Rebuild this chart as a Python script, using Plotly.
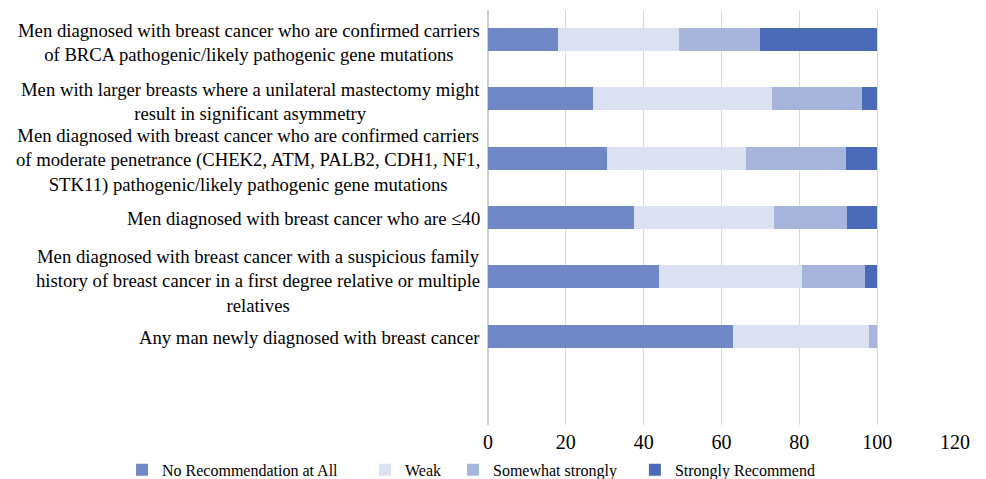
import plotly.graph_objects as go

categories = [
    "Men diagnosed with breast cancer who are confirmed carriers<br>of BRCA pathogenic/likely pathogenic gene mutations",
    "Men with larger breasts where a unilateral mastectomy might<br>result in significant asymmetry",
    "Men diagnosed with breast cancer who are confirmed carriers<br>of moderate penetrance (CHEK2, ATM, PALB2, CDH1, NF1,<br>STK11) pathogenic/likely pathogenic gene mutations",
    "Men diagnosed with breast cancer who are ≤40",
    "Men diagnosed with breast cancer with a suspicious family<br>history of breast cancer in a first degree relative or multiple<br>relatives",
    "Any man newly diagnosed with breast cancer",
]
series_names = ["No Recommendation at All", "Weak", "Somewhat strongly", "Strongly Recommend"]
no_rec = [18, 27, 30.5, 37.5, 44, 63]
weak = [31, 46, 35.7, 36, 36.7, 35]
somewhat = [21, 23, 25.7, 18.8, 16.2, 2]
strongly = [30, 4, 8.1, 7.7, 3.1, 0]
x_ticks = [0, 20, 40, 60, 80, 100, 120]

colors = ["#7089C6", "#DCE1F1", "#A7B5DC", "#4A6AB8"]
values = [no_rec, weak, somewhat, strongly]

ids = [f"c{i}" for i in range(len(categories))]
label_yshift = [-3, -3, -2, -1, -4, -1]

W, H = 978, 471  # page body keeps an 8px margin

fig = go.Figure()
legend_keys = ["legend", "legend2", "legend3", "legend4"]
legend_x = [0.1166, 0.365, 0.455, 0.641]
for name, vals, col, lk in zip(series_names, values, colors, legend_keys):
    fig.add_trace(go.Bar(
        y=ids, x=vals, name=name, orientation="h",
        marker=dict(color=col, line=dict(width=0)),
        legend=lk, showlegend=True,
    ))

for cid, label, ys in zip(ids, categories, label_yshift):
    fig.add_annotation(
        x=0, xref="paper", xanchor="right", xshift=-6,
        y=cid, yref="y", yanchor="middle", yshift=ys,
        text=label, showarrow=False, align="center",
        font=dict(family="Liberation Serif", size=18.7, color="#000000"),
    )

layout_legends = {}
for lk, lx in zip(legend_keys, legend_x):
    layout_legends[lk] = dict(
        x=lx, xref="container", y=-0.108, yref="paper",
        xanchor="left", yanchor="middle",
        orientation="h", bgcolor="rgba(0,0,0,0)",
        font=dict(family="Liberation Serif", size=16, color="#000000"),
        itemwidth=30, visible=True,
    )

fig.update_layout(
    width=W, height=H,
    margin=dict(l=480, r=31, t=2, b=54, autoexpand=False),
    plot_bgcolor="white", paper_bgcolor="white",
    barmode="stack", bargap=0.61, showlegend=True,
    font=dict(family="Liberation Serif", color="#000000"),
    xaxis=dict(
        range=[0, 120], tickvals=x_ticks, ticktext=[str(t) for t in x_ticks],
        showgrid=True, gridcolor="#D9D9D9", gridwidth=1,
        zeroline=True, zerolinecolor="#D0D0D0", zerolinewidth=2,
        tickfont=dict(family="Liberation Serif", size=20, color="#000000"),
        ticks="", ticklabelstandoff=3, fixedrange=True,
    ),
    yaxis=dict(
        categoryorder="array", categoryarray=ids[::-1],
        range=[-1.5, 5.5], showticklabels=False, showgrid=False,
        zeroline=False, ticks="",
    ),
    **layout_legends,
)

fig.write_html("out.html")
